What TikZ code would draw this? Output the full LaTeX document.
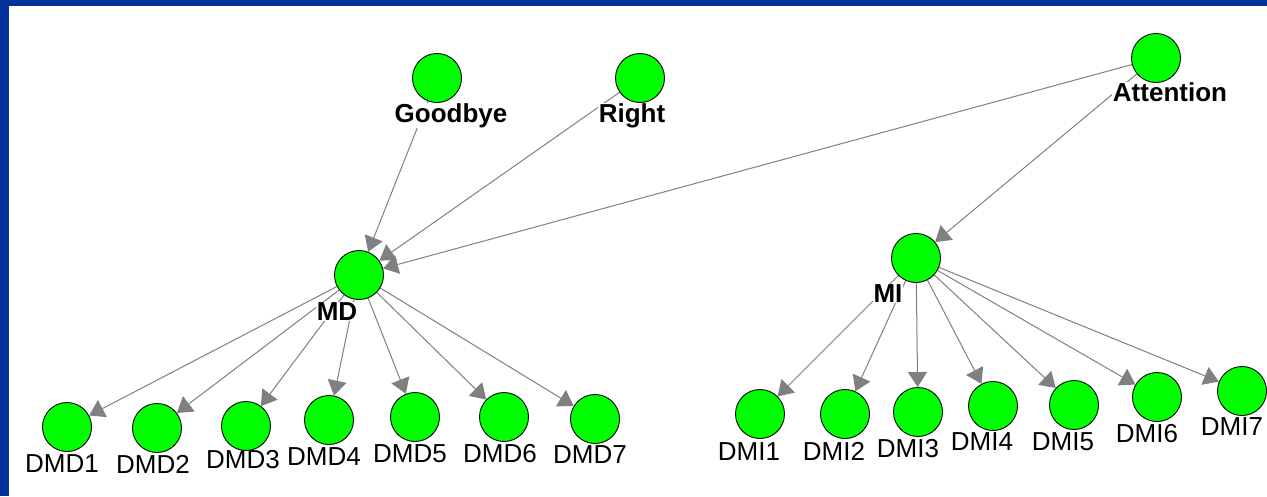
\documentclass[tikz,border=0pt]{standalone}
\usepackage{fontspec}
\setmainfont{Liberation Sans}
\usetikzlibrary{arrows.meta}
\definecolor{nodegreen}{HTML}{00FF00}
\definecolor{frameblue}{HTML}{003399}
\definecolor{edgegray}{HTML}{808080}
\pgfdeclarelayer{bg}
\pgfdeclarelayer{edgelayer}
\pgfsetlayers{bg,edgelayer,main}
\begin{document}
\begin{tikzpicture}[x=1pt,y=-1pt,
  vertex/.style={circle,draw=black,line width=0.9pt,fill=nodegreen,minimum size=49pt,inner sep=0pt},
  lab/.style={font=\fontsize{26}{28}\selectfont,fill=white,inner sep=0.5pt,anchor=base},
  blab/.style={lab,font=\fontsize{26}{28}\selectfont\bfseries},
  edge/.style={draw=edgegray,line width=1pt,-{Triangle[length=15pt,width=19pt]},color=edgegray}]
\begin{pgfonlayer}{bg}
  \fill[white] (0,0) rectangle (1267,496);
  \fill[frameblue] (0,0) rectangle (1267,6);
  \fill[frameblue] (0,0) rectangle (9,496);
\end{pgfonlayer}
\useasboundingbox (0,0) rectangle (1267,496);
% labels
\node[blab] (lgoodbye) at (451,122) {Goodbye};
\node[blab] (lright) at (632,122) {Right};
\node[blab] (lattention) at (1170,101) {Attention};
\node[blab] (lmd) at (337,320) {MD};
\node[blab] (lmi) at (888,302) {MI};
\node[lab] (ldmd1) at (62,472) {DMD1};
\node[lab] (ldmd2) at (153,473) {DMD2};
\node[lab] (ldmd3) at (243,468) {DMD3};
\node[lab] (ldmd4) at (324,465) {DMD4};
\node[lab] (ldmd5) at (410,462) {DMD5};
\node[lab] (ldmd6) at (500,462) {DMD6};
\node[lab] (ldmd7) at (590,463) {DMD7};
\node[lab] (ldmi1) at (749,460) {DMI1};
\node[lab] (ldmi2) at (834,460) {DMI2};
\node[lab] (ldmi3) at (908,457) {DMI3};
\node[lab] (ldmi4) at (982,450) {DMI4};
\node[lab] (ldmi5) at (1063,450) {DMI5};
\node[lab] (ldmi6) at (1147,442) {DMI6};
\node[lab] (ldmi7) at (1232,435) {DMI7};
% vertices
\node[vertex] (goodbye) at (437,78) {};
\node[vertex] (right) at (640,78) {};
\node[vertex] (attention) at (1156,58) {};
\node[vertex] (md) at (359,275) {};
\node[vertex] (mi) at (916,258) {};
\node[vertex] (dmd1) at (67,427) {};
\node[vertex] (dmd2) at (157,428) {};
\node[vertex] (dmd3) at (246,426) {};
\node[vertex] (dmd4) at (329,420) {};
\node[vertex] (dmd5) at (415,417) {};
\node[vertex] (dmd6) at (504,417) {};
\node[vertex] (dmd7) at (595,419) {};
\node[vertex] (dmi1) at (760,414) {};
\node[vertex] (dmi2) at (845,414) {};
\node[vertex] (dmi3) at (918,412) {};
\node[vertex] (dmi4) at (993,406) {};
\node[vertex] (dmi5) at (1074,405) {};
\node[vertex] (dmi6) at (1157,397) {};
\node[vertex] (dmi7) at (1242,391) {};
% edges
\begin{pgfonlayer}{edgelayer}
  \draw[edge] (goodbye) -- (md);
  \draw[edge] (right) -- (md);
  \draw[edge] (attention) -- (md);
  \draw[edge] (attention) -- (mi);
  \foreach \t in {dmd1,dmd2,dmd3,dmd4,dmd5,dmd6,dmd7} {\draw[edge] (md) -- (\t);}
  \foreach \t in {dmi1,dmi2,dmi3,dmi4,dmi5,dmi6,dmi7} {\draw[edge] (mi) -- (\t);}
\end{pgfonlayer}
\end{tikzpicture}
\end{document}
